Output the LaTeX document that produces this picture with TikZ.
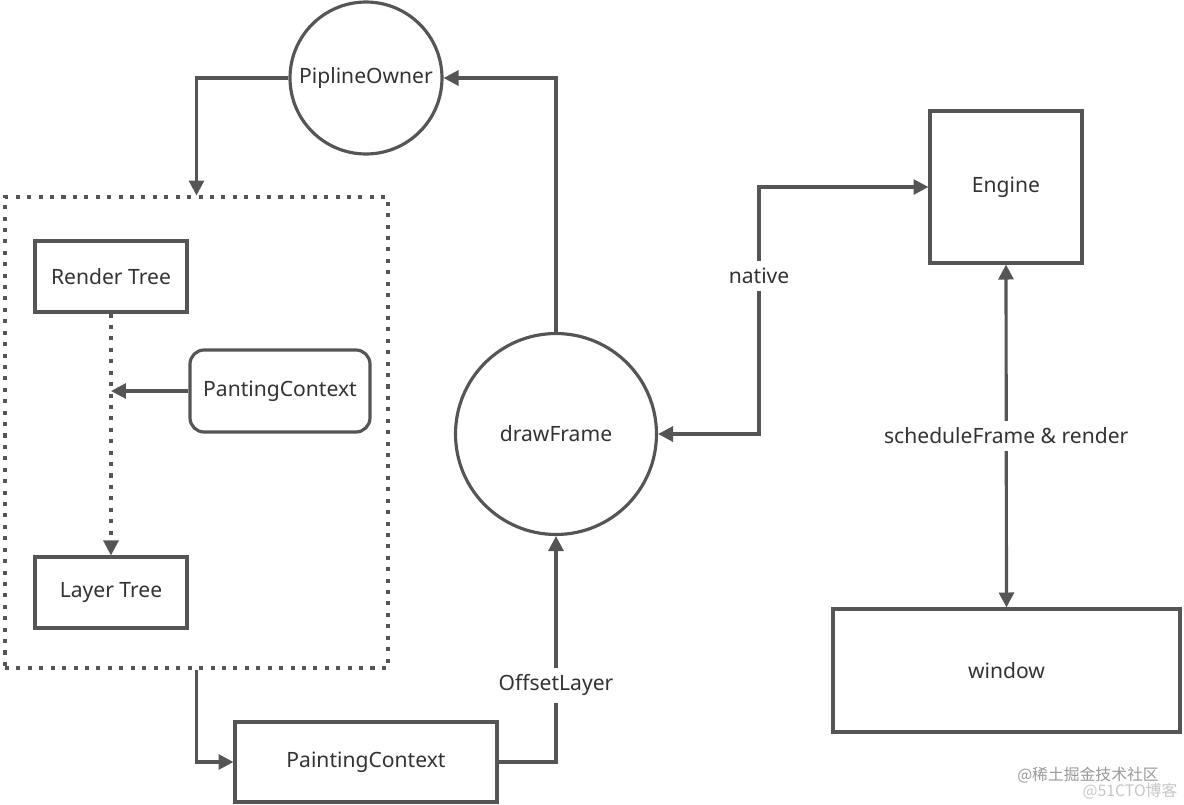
\documentclass[tikz,border=0pt]{standalone}
\usepackage{fontspec}
\setmainfont{Noto Sans}
\newfontfamily\cjk{Noto Sans CJK SC}
\usetikzlibrary{arrows.meta}
\definecolor{linegray}{HTML}{555555}
\definecolor{textgray}{HTML}{333333}

\begin{document}
\begin{tikzpicture}
        [x=0.02cm, y=-0.02cm,
        every node/.style={font=\fontsize{12}{14}\selectfont, text=textgray},
        box/.style={rectangle, draw=linegray, line width=1.8pt, inner sep=0pt},
        ball/.style={circle, draw=linegray, line width=1.8pt, inner sep=0pt},
        flow/.style={draw=linegray, line width=1.8pt, -{Triangle[length=8.5pt, width=8.5pt]}},
        twoway/.style={flow, {Triangle[length=8.5pt, width=8.5pt]}-{Triangle[length=8.5pt, width=8.5pt]}},
        group/.style={rectangle, draw=linegray, line width=1.8pt, dash pattern=on 2.3pt off 4.2pt},
        tag/.style={fill=white, inner sep=4pt},
        stamp/.style={font=\cjk\fontsize{9}{10}\selectfont, inner sep=0pt}]

        \useasboundingbox (0,0) rectangle (1184,805);

        \node[ball, minimum size=3.04cm] (owner) at (366,78) {PiplineOwner};
        \node[ball, minimum size=4.02cm] (frame) at (556,434) {drawFrame};
        \node[group, minimum width=7.66cm, minimum height=9.42cm] (core) at (196.5,432.5) {};
        \node[box, minimum width=3.04cm, minimum height=1.42cm] (render) at (111,276.5) {Render Tree};
        \node[box, rounded corners=8pt, minimum width=3.6cm, minimum height=1.64cm] (panting) at (280,391) {PantingContext};
        \node[box, minimum width=3.04cm, minimum height=1.42cm] (layer) at (111,592.5) {Layer Tree};
        \node[box, minimum width=5.24cm, minimum height=1.6cm] (painting) at (366,762) {PaintingContext};
        \node[box, minimum size=3.04cm] (engine) at (1006,187) {Engine};
        \node[box, minimum width=6.94cm, minimum height=2.46cm] (window) at (1006.5,670.5) {window};

        % watermark
        \node[stamp, text=gray!80] (stamp1) at (1088,775) {@稀土掘金技术社区};
        \node[stamp, text=gray!45] (stamp2) at (1130,791) {@51CTO博客};

        % main loop
        \draw[flow] (owner.west) -| (core.north);
        \draw[flow] (core.south) |- (painting.west);
        \draw[flow] (painting.east) -| node[tag, pos=0.67] {OffsetLayer} (frame.south);
        \draw[flow] (frame.north) |- (owner.east);

        % inside the group
        \draw[flow, dash pattern=on 2.3pt off 4.2pt] (render.south) -- (layer.north);
        \draw[flow] (panting.west) -- (panting.west -| render.south);

        % engine side
        \draw[twoway] (frame.east) -- ++(101,0) |- node[tag, pos=0.32] {native} (engine.west);
        \draw[twoway] (engine.south) -- node[tag] {scheduleFrame \& render} (window.north);

    \end{tikzpicture}
\end{document}
